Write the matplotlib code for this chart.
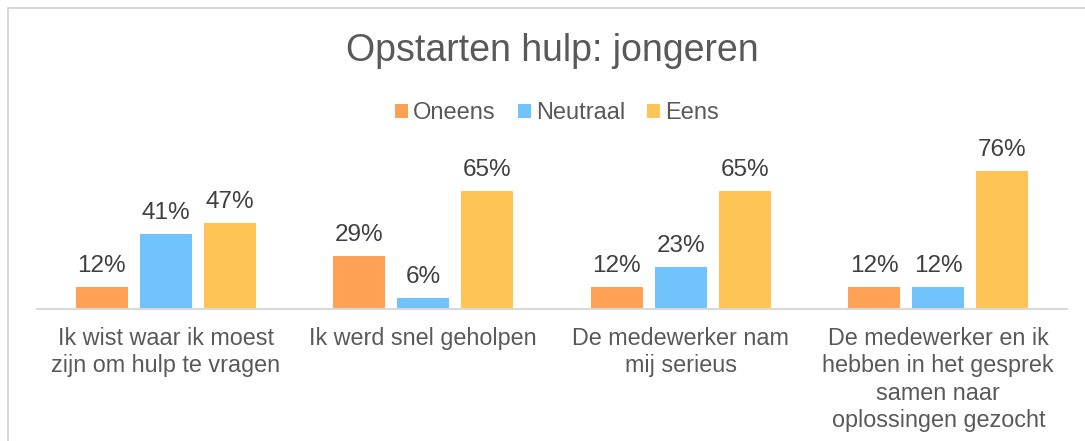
import numpy as np
import matplotlib.pyplot as plt
from matplotlib.patches import Rectangle

plt.rcParams['font.family'] = ['Liberation Sans', 'DejaVu Sans']

categories = ['Ik wist waar ik moest\nzijn om hulp te vragen',
              'Ik werd snel geholpen',
              'De medewerker nam\nmij serieus',
              'De medewerker en ik\nhebben in het gesprek\nsamen naar\noplossingen gezocht']
series = ['Oneens', 'Neutraal', 'Eens']
oneens = [12, 29, 12, 12]
neutraal = [41, 6, 23, 12]
eens = [47, 65, 65, 76]
colors = ['#FFA154', '#71C4FB', '#FFC455']
txt = '#595959'

fig = plt.figure(figsize=(10.85, 4.41), dpi=100)
# chart frame (partly cut off in the reference)
fig.patches.append(Rectangle((8/1085, -0.1), 1.2, (441-8)/441 + 0.1, transform=fig.transFigure,
                             fill=False, edgecolor='#D9D9D9', linewidth=1.5))

ax = fig.add_axes([37/1085, (441-309)/441, 1030/1085, 182/441])
x = np.arange(len(categories))
w = 0.202
off = 0.2485
for i, (vals, name) in enumerate(zip([oneens, neutraal, eens], series)):
    bars = ax.bar(x + (i-1)*off, vals, w, color=colors[i], label=name)
    for b, v in zip(bars, vals):
        ax.text(b.get_x() + b.get_width()/2, v + 5.5, '%d%%' % v, ha='center', va='bottom',
                fontsize=17.5, color='#404040')

ax.set_xlim(-0.5, 3.5)
ax.set_ylim(0, 100)
for s in ['top', 'right', 'left']:
    ax.spines[s].set_visible(False)
ax.spines['bottom'].set_color('#D9D9D9')
ax.spines['bottom'].set_linewidth(1.5)
ax.set_yticks([])
ax.set_xticks(x)
ax.set_xticklabels(categories, fontsize=16.8, color=txt, linespacing=1.24)
ax.tick_params(axis='x', length=0, pad=13)

fig.text(552/1085, 1 - 51/441, 'Opstarten hulp: jongeren', ha='center', va='center',
         fontsize=27, color=txt)
fig.legend(loc='center', bbox_to_anchor=(557/1085, 1 - 113/441), ncol=3, frameon=False,
           fontsize=17, labelcolor=txt, handlelength=0.55, handleheight=0.55,
           handletextpad=0.2, columnspacing=0.95)

fig.savefig('out.png', dpi=100)
